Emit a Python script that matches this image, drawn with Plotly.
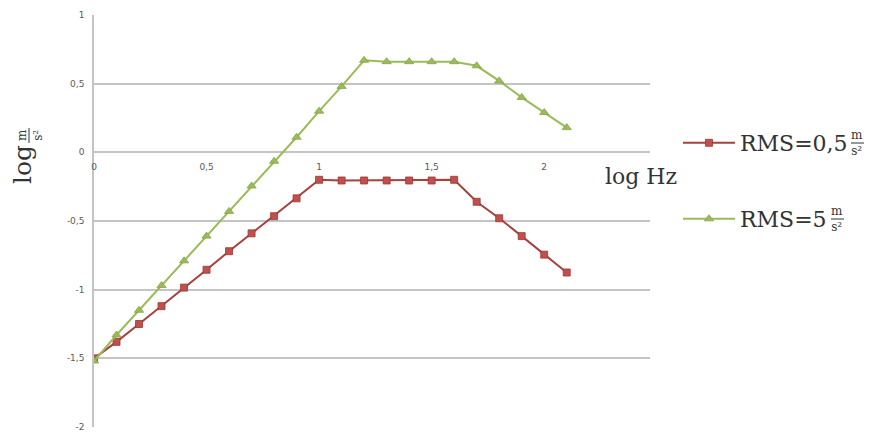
import plotly.graph_objects as go

log_hz = [0, 0.1, 0.2, 0.3, 0.4, 0.5, 0.6, 0.7, 0.8, 0.9, 1.0,
          1.1, 1.2, 1.3, 1.4, 1.5, 1.6, 1.7, 1.8, 1.9, 2.0, 2.1]
rms_05 = [-1.50, -1.38, -1.25, -1.12, -0.985, -0.855, -0.72, -0.59, -0.465, -0.335, -0.20,
          -0.205, -0.205, -0.205, -0.205, -0.205, -0.20, -0.36, -0.48, -0.61, -0.745, -0.875]
rms_5 = [-1.52, -1.33, -1.15, -0.97, -0.79, -0.61, -0.43, -0.245, -0.065, 0.11, 0.30,
         0.48, 0.67, 0.66, 0.66, 0.66, 0.66, 0.63, 0.52, 0.40, 0.29, 0.18]

x_tickvals = [0, 0.5, 1, 1.5, 2]
x_ticktext = ["0", "0,5", "1", "1,5", "2"]
y_tickvals = [1, 0.5, 0, -0.5, -1, -1.5, -2]
y_ticktext = ["1", "0,5", "0", "-0,5", "-1", "-1,5", "-2"]

name_05 = "RMS=0,5"
name_5 = "RMS=5"
unit_frac = "m<br>s²"

RED = "#C0504D"
RED_LINE = "#A8403D"
GREEN = "#9BBB59"
GRID = "#C4C4C4"
TXT = "#333333"
SERIF = "DejaVu Serif, Liberation Serif, serif"

OFF = 8  # page body margin
W, H = 881 - OFF, 435 - OFF
L, R, T, B = 94, 650, 15, 427  # plot area in page pixels
PW, PH = R - L, B - T


def px(xp):
    return (xp - L) / PW


def py(yp):
    return (B - yp) / PH


fig = go.Figure()
fig.add_trace(go.Scatter(
    x=log_hz, y=rms_05, mode="lines+markers", name=name_05,
    line=dict(color=RED_LINE, width=2),
    marker=dict(symbol="square", size=7, color=RED, line=dict(color="#9E3532", width=0.8)),
    legend="legend"))
fig.add_trace(go.Scatter(
    x=log_hz, y=rms_5, mode="lines+markers", name=name_5,
    line=dict(color=GREEN, width=2),
    marker=dict(symbol="triangle-up", size=8, color=GREEN, line=dict(color="#86A348", width=0.8)),
    legend="legend2"))

legend_font = dict(family=SERIF, size=22, color=TXT)
tick_font = dict(family="DejaVu Sans", size=9, color="#5a5a5a")
fig.update_layout(
    width=W, height=H,
    margin=dict(l=L - OFF, r=W - (R - OFF), t=T - OFF, b=H - (B - OFF), autoexpand=False),
    paper_bgcolor="white", plot_bgcolor="white",
    xaxis=dict(range=[0, 2.47], tickvals=x_tickvals, ticktext=x_ticktext,
               showgrid=False, zeroline=False, showline=False,
               anchor="free", position=2/3,
               ticks="outside", ticklen=6, tickcolor="rgba(0,0,0,0)",
               tickfont=tick_font),
    yaxis=dict(range=[-2, 1], tickvals=y_tickvals, ticktext=y_ticktext,
               showgrid=True, gridcolor=GRID, gridwidth=1.5,
               zeroline=False, showline=True, linecolor=GRID, linewidth=1.5,
               ticks="outside", ticklen=6, tickcolor="rgba(0,0,0,0)",
               tickfont=tick_font),
    legend=dict(x=px(678), y=py(143), xanchor="left", yanchor="middle",
                font=legend_font, itemwidth=52, bgcolor="rgba(0,0,0,0)"),
    legend2=dict(x=px(678), y=py(219), xanchor="left", yanchor="middle",
                 font=legend_font, itemwidth=52, bgcolor="rgba(0,0,0,0)"),
    showlegend=True,
)

# unit fractions after legend labels
for cx, cy, x0, x1 in [(857, 143, 851, 864), (837, 219, 831, 844)]:
    fig.add_annotation(text=unit_frac, xref="paper", yref="paper",
                       x=px(cx), y=py(cy), xanchor="center", yanchor="middle",
                       showarrow=False, font=dict(family=SERIF, size=12, color=TXT))
    fig.add_shape(type="line", xref="paper", yref="paper",
                  x0=px(x0), x1=px(x1), y0=py(cy), y1=py(cy),
                  line=dict(color=TXT, width=1))

# x-axis title
fig.add_annotation(text="log Hz", xref="paper", yref="paper",
                   x=px(641), y=py(176),
                   xanchor="center", yanchor="middle", showarrow=False,
                   font=dict(family=SERIF, size=22, color=TXT))
# y-axis title: "log" + stacked fraction m / s²
fig.add_annotation(text="log", xref="paper", yref="paper",
                   x=px(23), y=py(165),
                   xanchor="center", yanchor="middle", showarrow=False, textangle=-90,
                   font=dict(family=SERIF, size=25, color=TXT))
fig.add_annotation(text=unit_frac, xref="paper", yref="paper",
                   x=px(30), y=py(135),
                   xanchor="center", yanchor="middle", showarrow=False, textangle=-90,
                   font=dict(family=SERIF, size=12, color=TXT))
fig.add_shape(type="line", xref="paper", yref="paper",
              x0=px(29), x1=px(29), y0=py(128), y1=py(143),
              line=dict(color=TXT, width=1))

fig.write_html("out.html")
